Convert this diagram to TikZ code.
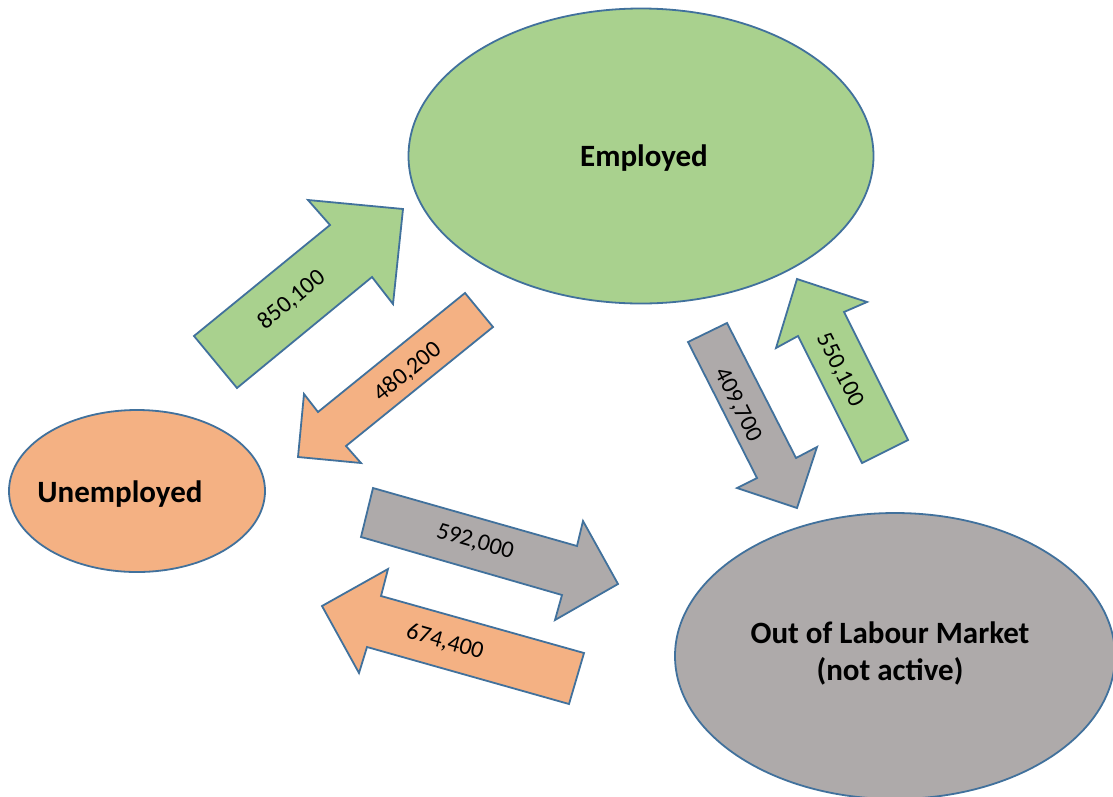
\documentclass[tikz,border=0pt]{standalone}
\usepackage{fontspec}
\setmainfont{Carlito}
\usetikzlibrary{shapes.geometric}
\definecolor{empgreen}{HTML}{A9D18E}
\definecolor{unorange}{HTML}{F4B183}
\definecolor{outgray}{HTML}{AEAAAA}
\definecolor{edgeblue}{HTML}{41719C}
\tikzset{
  blob/.style={ellipse, draw=edgeblue, line width=1.8pt, inner sep=0pt},
  blockarrow/.style={draw=edgeblue, line width=1.8pt, line join=miter},
  bigtext/.style={font=\fontsize{31}{37}\selectfont\bfseries, align=center},
  flowtext/.style={font=\fontsize{24}{28}\selectfont, inner sep=0pt},
}
\begin{document}
\begin{tikzpicture}[x=1pt,y=-1pt]
\useasboundingbox (0,0) rectangle (1113,796);
\fill[white] (0,0) rectangle (1113,796);

% states
\node[blob, fill=empgreen, minimum width=465pt, minimum height=295pt] (emp) at (641,156) {};
\node[blob, fill=unorange, minimum width=256pt, minimum height=162pt] (unemp) at (137,491) {};
\node[blob, fill=outgray, minimum width=440pt, minimum height=286pt] (out) at (895,656) {};

\node[bigtext] (emptext) at (644,158) {Employed};
\node[bigtext] (unemptext) at (120,494) {Unemployed};
\node[bigtext] (outtext) at (890,653) {Out of Labour Market\\(not active)};

% block arrows
\draw[blockarrow, fill=empgreen] (194,336) -- (330,225) -- (308,200) -- (403,209) -- (393,304) -- (372,277) -- (237,388) -- cycle;
\draw[blockarrow, fill=unorange] (465,293) -- (493,327) -- (346,446) -- (361,463) -- (298,457) -- (304,394) -- (318,412) -- cycle;
\draw[blockarrow, fill=outgray] (688,342) -- (727,323) -- (796,458) -- (817,447) -- (797,508) -- (737,488) -- (757,478) -- cycle;
\draw[blockarrow, fill=empgreen] (862,463) -- (908,440) -- (844,312) -- (867,302) -- (797,279) -- (776,348) -- (798,336) -- cycle;
\draw[blockarrow, fill=outgray] (373,488) -- (577,546) -- (583,521) -- (618,584) -- (555,620) -- (562,595) -- (361,537) -- cycle;
\draw[blockarrow, fill=unorange] (584,653) -- (569,704) -- (367,647) -- (359,673) -- (322,606) -- (388,569) -- (381,596) -- cycle;

% flow labels
\node[flowtext, rotate=39] (f1) at (292,300) {850,100};
\node[flowtext, rotate=39] (f2) at (408,372) {480,200};
\node[flowtext, rotate=-63] (f3) at (738,405) {409,700};
\node[flowtext, rotate=-63] (f4) at (840,370) {550,100};
\node[flowtext, rotate=-16] (f5) at (475,542) {592,000};
\node[flowtext, rotate=-16] (f6) at (445,642) {674,400};
\end{tikzpicture}
\end{document}
